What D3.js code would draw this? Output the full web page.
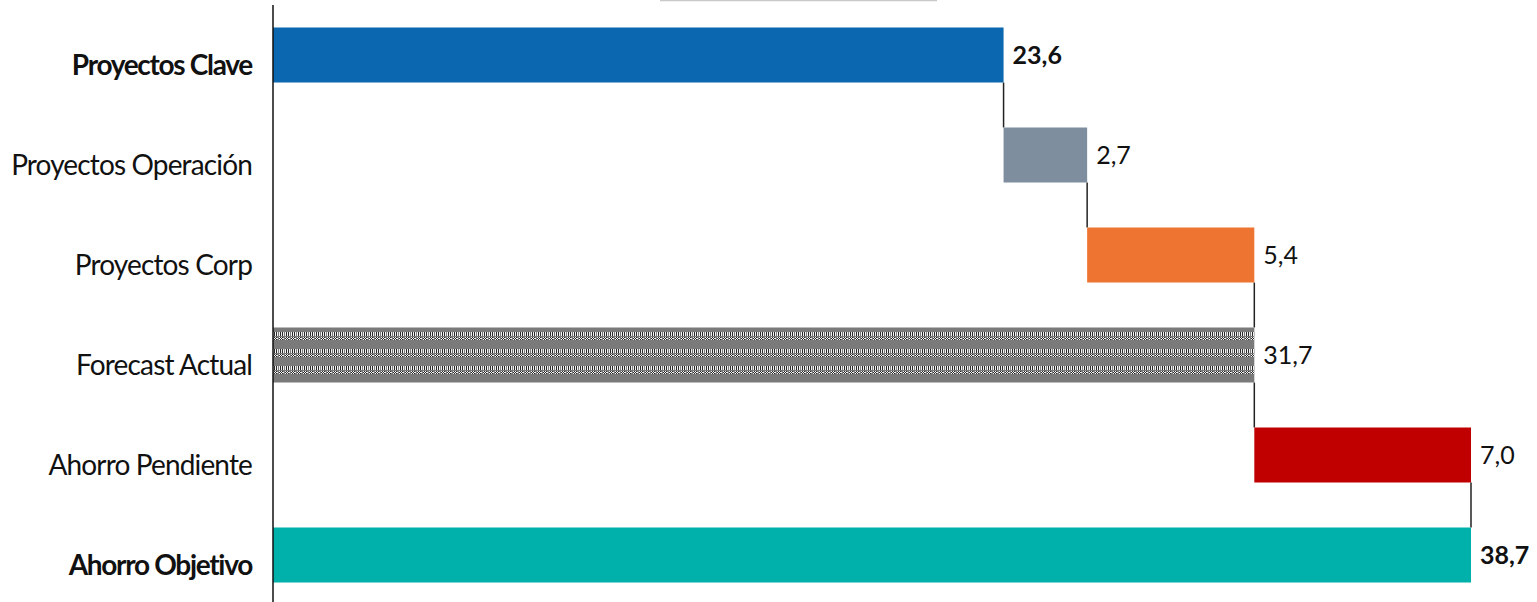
<!DOCTYPE html>
<html>
<head>
<meta charset="utf-8">
<script src="https://cdn.jsdelivr.net/npm/d3@7"></script>
<style>
  body { margin: 0; background: #fff; }
  svg { display: block; }
  .cat { font-family: Lato, "Open Sans", sans-serif; font-size: 28px; letter-spacing: -0.85px; fill: #111; }
  .cat.bold { font-weight: bold; letter-spacing: -1.3px; }
  .val { font-family: Lato, "Open Sans", sans-serif; font-size: 25px; letter-spacing: 0px; fill: #111; }
</style>
</head>
<body>
<div id="chart-area"></div>
<script>
// waterfall data
var categories = ['Proyectos Clave', 'Proyectos Operación', 'Proyectos Corp', 'Forecast Actual', 'Ahorro Pendiente', 'Ahorro Objetivo'];
var values = [23.6, 2.7, 5.4, 31.7, 7.0, 38.7];
var kinds = ['total', 'step', 'step', 'total', 'step', 'total'];
var labels = ['23,6', '2,7', '5,4', '31,7', '7,0', '38,7'];
var boldRows = ['Proyectos Clave', 'Ahorro Objetivo'];
var colors = ['#0A67B0', '#7E8E9F', '#EE7432', 'pattern', '#C00000', '#00B0AA'];

var W = 1537, H = 602;
var margin = {left: 273, top: 5};

var svg = d3.select('#chart-area')
  .append('svg')
    .attr('width', W)
    .attr('height', H);

// checkered pattern for forecast bar
var defs = svg.append('defs');
var pat = defs.append('pattern')
  .attr('id', 'checks')
  .attr('patternUnits', 'userSpaceOnUse')
  .attr('width', 6)
  .attr('height', 17)
  .attr('x', margin.left)
  .attr('y', 327);
pat.append('rect').attr('width', 6).attr('height', 17).attr('fill', '#7a7a7a');
[[0,5,1,4],[2,5,1,4],[4,5,1,4],[0,10,1,1],[2,10,1,1],[1,11,1,1],[3,11,1,1],[0,12,1,1],[2,12,1,1],[4,11,1,1]].forEach(function(r){
  pat.append('rect').attr('x', r[0]).attr('y', r[1]).attr('width', r[2]).attr('height', r[3]).attr('fill', '#f2f2f2');
});
[[1,5,1,4],[3,5,1,4],[1,10,1,1],[3,10,1,1],[0,11,1,1],[2,11,1,1],[1,12,1,1],[3,12,1,1]].forEach(function(r){
  pat.append('rect').attr('x', r[0]).attr('y', r[1]).attr('width', r[2]).attr('height', r[3]).attr('fill', '#2a2a2a');
});

// compute start / end of each bar
var running = 0;
var rows = categories.map(function(c, i){
  var start, end;
  if (kinds[i] === 'total') { start = 0; end = values[i]; running = values[i]; }
  else { start = running; end = running + values[i]; running = end; }
  return {cat: c, start: start, end: end, label: labels[i], color: colors[i]};
});

var x = d3.scaleLinear()
  .domain([0, 38.7])
  .range([margin.left, 1471]);
var y = d3.scaleBand()
  .domain(categories)
  .range([margin.top, 605])
  .paddingInner(0.45)
  .paddingOuter(0.225);

// faint line at top (title box edge)
svg.append('line')
  .attr('x1', 660).attr('x2', 937)
  .attr('y1', 0.5).attr('y2', 0.5)
  .attr('stroke', '#c8c8c8')
  .attr('stroke-width', 1.5);

// connectors
rows.forEach(function(d, i){
  if (i === rows.length - 1) return;
  svg.append('line')
    .attr('x1', x(d.end)).attr('x2', x(d.end))
    .attr('y1', y(d.cat) + y.bandwidth())
    .attr('y2', y(categories[i + 1]))
    .attr('stroke', '#222')
    .attr('stroke-width', 1.5);
});

// bars
svg.selectAll('rect.bar').data(rows).enter().append('rect')
  .attr('class', 'bar')
  .attr('x', function(d){ return x(d.start); })
  .attr('y', function(d){ return y(d.cat); })
  .attr('width', function(d){ return x(d.end) - x(d.start); })
  .attr('height', y.bandwidth())
  .attr('fill', function(d){ return d.color === 'pattern' ? 'url(#checks)' : d.color; });

// value labels
svg.selectAll('text.val').data(rows).enter().append('text')
  .attr('class', 'val')
  .attr('x', function(d){ return x(d.end) + 9; })
  .attr('y', function(d){ return y(d.cat) + y.bandwidth() / 2 + 9; })
  .attr('font-weight', function(d){ return boldRows.indexOf(d.cat) >= 0 ? 'bold' : 'normal'; })
  .text(function(d){ return d.label; });

// y axis (line + category labels)
var yAxis = svg.append('g')
  .attr('transform', 'translate(' + margin.left + ',0)')
  .call(d3.axisLeft(y).tickSize(0).tickPadding(21));
yAxis.select('.domain')
  .attr('d', 'M0,' + margin.top + 'V' + H)
  .attr('stroke', '#111')
  .attr('stroke-width', 1.5);
yAxis.selectAll('.tick text')
  .attr('class', function(d){ return boldRows.indexOf(d) >= 0 ? 'cat bold' : 'cat'; })
  .attr('font-size', null)
  .attr('font-family', null)
  .attr('dy', null)
  .attr('y', 20);
</script>
</body>
</html>
